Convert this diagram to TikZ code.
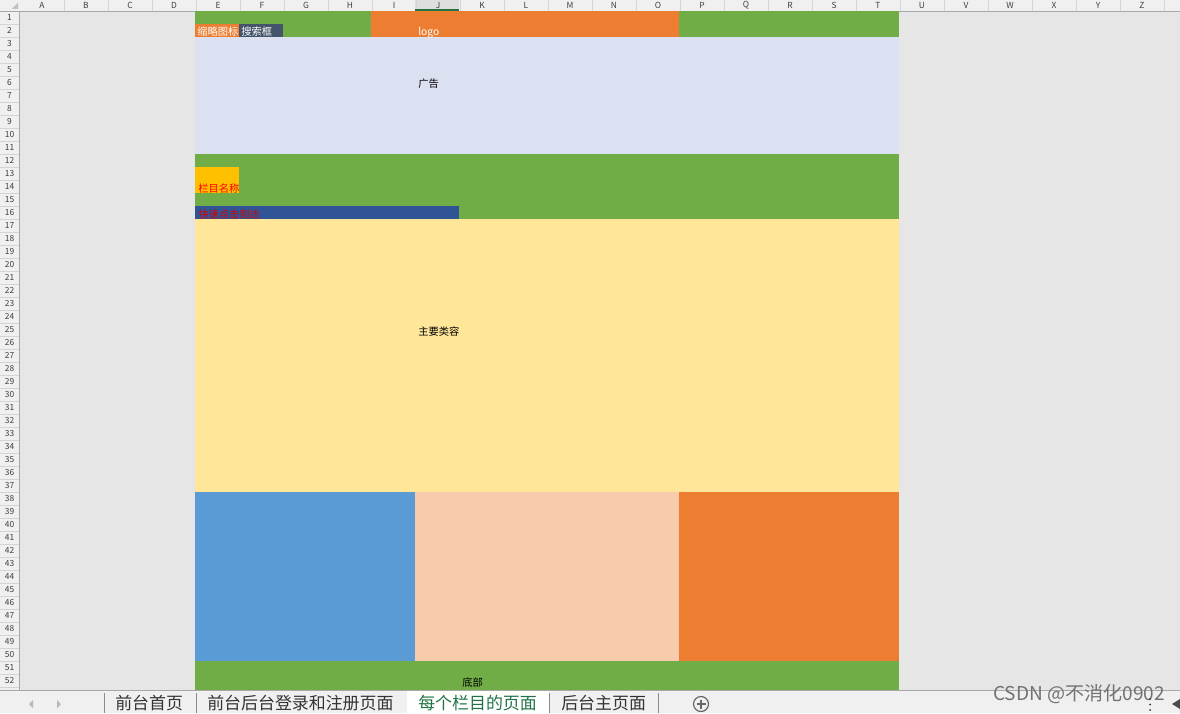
\documentclass[tikz,border=0pt]{standalone}
\usepackage{fontspec}
\setmainfont{Noto Sans CJK SC}
\usepackage{tikz}

\definecolor{sheetgray}{RGB}{230,230,230}
\definecolor{headgray}{RGB}{240,240,240}
\definecolor{headsel}{RGB}{222,222,222}
\definecolor{linegray}{RGB}{212,212,212}
\definecolor{edgegray}{RGB}{168,168,168}
\definecolor{xlgreen}{RGB}{112,173,71}
\definecolor{xlorange}{RGB}{237,125,49}
\definecolor{xlslate}{RGB}{68,84,106}
\definecolor{xlpale}{RGB}{220,225,242}
\definecolor{xlgold}{RGB}{255,192,0}
\definecolor{xlnavy}{RGB}{47,85,151}
\definecolor{xlcream}{RGB}{255,230,153}
\definecolor{xlblue}{RGB}{91,155,213}
\definecolor{xlpeach}{RGB}{248,203,173}
\definecolor{tabgreen}{RGB}{33,115,70}

\tikzset{
  head/.style={font=\fontsize{6.3}{6.5}\selectfont, text=black!75, inner sep=0pt},
  cell/.style={font=\fontsize{7.7}{8}\selectfont, inner sep=0pt, anchor=base west},
  tab/.style={font=\fontsize{12.7}{13}\selectfont, text=black!80, inner sep=0pt, anchor=base west},
  tabline/.style={draw=black!45, line width=0.6pt}
}

\begin{document}
\begin{tikzpicture}[x=0.75pt,y=0.75pt,yscale=-1,xscale=1]
\useasboundingbox (0,0) rectangle (1180,713);

%Shape: sheet background
\fill[sheetgray] (0,0) rectangle (1180,713);

%Shape: column and row headers
\fill[headgray] (0,0) rectangle (1180,11);
\fill[headgray] (0,0) rectangle (19,690);
\fill[headsel] (415,0) rectangle (459,11);
\fill[black!25] (12,9) -- (18,9) -- (18,3) -- cycle;
\foreach \l [count=\i] in {A,...,Z} {
  \draw[linegray] (20+44*\i,0) -- (20+44*\i,11);
  \draw (44*\i-2,5.5) node[head] (col\l) {\l};
}
\foreach \r in {1,...,52} {
  \draw[linegray] (0,11+13*\r) -- (19,11+13*\r);
  \draw (9.5,4.8+13*\r) node[head] (row\r) {\r};
}
\draw[edgegray] (0,11) -- (1180,11);
\draw[edgegray] (19.5,11) -- (19.5,690);
\draw[tabgreen, line width=1.5] (415,10.2) -- (459,10.2);

%Shape: top bar, rows 1-2
\fill[xlgreen] (195,11) rectangle (371,37);
\fill[xlorange] (371,11) rectangle (679,37);
\fill[xlgreen] (679,11) rectangle (899,37);
\fill[xlorange] (195,24) rectangle (239,37);
\fill[xlslate] (239,24) rectangle (283,37);

%Shape: advert, rows 3-11
\fill[xlpale] (195,37) rectangle (899,154);

%Shape: column bar, rows 12-16
\fill[xlgreen] (195,154) rectangle (899,219);
\fill[xlgold] (195,167) rectangle (239,193);
\fill[xlnavy] (195,206) rectangle (459,219);

%Shape: main content, rows 17-37
\fill[xlcream] (195,219) rectangle (899,492);

%Shape: three blocks, rows 38-50
\fill[xlblue] (195,492) rectangle (415,661);
\fill[xlpeach] (415,492) rectangle (679,661);
\fill[xlorange] (679,492) rectangle (899,661);

%Shape: footer, rows 51-52
\fill[xlgreen] (195,661) rectangle (899,690);

% Text Node
\draw (197,36) node[cell, text=white] (thumb) {缩略图标};
% Text Node
\draw (241,36) node[cell, text=white] (search) {搜索框};
% Text Node
\draw (418,36) node[cell, text=white] (logo) {logo};
% Text Node
\draw (418,88) node[cell] (advert) {广告};
% Text Node
\draw (198,192) node[cell, text=red] (colname) {栏目名称};
% Text Node
\draw (198,218) node[cell, text=red!85!black] (quick) {快速点击到达};
% Text Node
\draw (418,335) node[cell] (content) {主要类容};
% Text Node
\draw (462,686) node[cell] (footer) {底部};

%Shape: sheet tabs
\fill[headgray] (0,690) rectangle (1180,713);
\fill[white] (407,690) rectangle (549,713);
\draw[edgegray] (0,690.5) -- (1180,690.5);
\fill[black!28] (33,700) -- (29,704) -- (33,708) -- cycle;
\fill[black!28] (57,700) -- (61,704) -- (57,708) -- cycle;
\draw[tabline] (104,693) -- (104,713);
\draw[tabline] (196,693) -- (196,713);
\draw[tabline] (549,693) -- (549,713);
\draw[tabline] (658,693) -- (658,713);
\draw[black!60, line width=0.9] (701,704) circle (7.5);
\draw[black!60, line width=0.9] (696.5,704) -- (705.5,704) (701,699.5) -- (701,708.5);

% Text Node
\draw (115,709.5) node[tab] (tabhome) {前台首页};
% Text Node
\draw (207,709.5) node[tab] (tablogin) {前台后台登录和注册页面};
% Text Node
\draw (418,709.5) node[tab, text=tabgreen] (tabcolumn) {每个栏目的页面};
% Text Node
\draw (561,709.5) node[tab] (tabadmin) {后台主页面};

% Text Node
\draw (993,700.5) node[anchor=base west, inner sep=0pt, text=black!55, font=\fontsize{14.3}{15}\selectfont] (mark) {CSDN @不消化0902};

%Shape: scroll controls
\foreach \d in {699,704.5,710} \fill[black!80] (1150,\d) circle (1);
\fill[black!70] (1180,699) -- (1172,704) -- (1180,709) -- cycle;

\end{tikzpicture}
\end{document}
